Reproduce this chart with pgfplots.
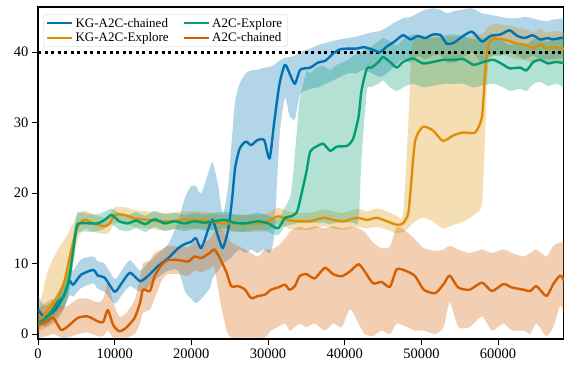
\documentclass[border=0pt]{standalone}
\usepackage{fontspec}
\setmainfont{Liberation Serif}
\usepackage{pgfplots}
\usepackage{pgfplotstable}
\pgfplotsset{compat=1.18}
\usepgfplotslibrary{fillbetween}
\definecolor{cbblue}{HTML}{0173B2}
\definecolor{cborange}{HTML}{DE8F05}
\definecolor{cbgreen}{HTML}{029E73}
\definecolor{cbred}{HTML}{D55E00}

\pgfplotstableread{
x m lo hi
0 3.5 1.8 5.5
900 2.4 1.0 4.0
2200 3.4 2.0 5.0
3300 5.3 3.5 7.0
4100 7.5 5.5 9.3
4600 7.0 5.3 9.0
5600 8.4 6.5 10.6
7200 9.1 7.2 11.0
7800 8.3 6.4 10.3
8700 8.0 6.0 10.0
10000 6.0 4.3 7.8
10900 7.2 5.5 9.0
12000 8.7 6.8 10.5
13300 7.5 6.0 9.0
14300 8.2 6.5 10.0
15600 9.6 8.0 11.4
17000 10.8 9.0 12.8
18300 12.2 9.0 16.0
19200 12.8 6.0 19.5
20000 13.1 5.0 21.0
20600 13.6 4.4 21.0
21300 12.2 5.0 20.0
22400 15.5 6.5 23.5
22800 16.2 8.0 24.3
23500 13.8 9.0 21.0
24100 12.2 10.0 17.0
24800 14.8 10.5 21.0
25300 19.0 11.0 28.0
25700 23.5 11.5 33.0
26300 26.3 12.0 35.5
27100 27.3 11.5 37.0
27800 26.8 12.0 37.4
28600 27.5 11.5 37.5
29500 27.5 12.0 37.8
30200 24.9 11.5 37.9
30800 30.0 14.0 38.2
31500 35.5 28.0 38.8
32200 38.2 33.5 39.2
32800 37.0 31.0 39.3
33500 35.5 30.5 39.5
34200 37.5 34.0 40.0
35500 37.8 34.8 40.5
36500 38.5 35.0 41.0
37500 38.8 35.5 41.3
38500 39.8 36.0 41.6
39400 40.4 36.5 41.8
40500 40.5 37.0 42.0
41500 40.5 37.0 42.2
42500 40.7 37.5 42.5
43500 40.4 37.0 42.8
44600 40.0 36.5 43.0
45500 40.8 37.0 43.5
46500 41.5 38.0 44.2
47600 42.4 39.0 44.8
48600 41.8 38.5 45.0
49500 42.3 39.5 45.5
50500 42.0 39.0 46.0
51500 42.5 39.5 46.2
52500 42.4 39.5 46.0
53300 41.2 38.5 45.5
54200 41.3 38.5 45.8
55200 42.1 39.0 46.0
56600 42.9 40.0 46.2
57900 41.5 38.5 45.5
59000 42.3 39.5 45.3
60300 42.5 39.5 45.0
61500 43.1 40.0 44.8
62500 42.3 39.5 44.8
63500 42.0 39.0 45.0
64500 42.4 39.5 44.8
65500 41.8 39.0 44.5
66500 42.0 39.0 44.4
67100 41.8 39.0 44.6
68600 42.1 39.2 44.8
}\kgchained

\pgfplotstableread{
x m lo hi
0 1.3 0.3 3.0
1300 3.4 1.0 9.0
2600 5.3 2.0 12.0
3500 7.7 4.0 13.5
4350 12.0 8.5 15.2
5200 15.3 13.5 17.0
6100 16.2 15.0 17.5
7200 15.7 14.5 17.0
8700 15.3 14.2 16.5
9350 15.7 14.5 17.0
10000 16.9 15.7 18.0
11300 16.9 15.7 18.0
12600 16.4 15.2 17.6
14300 16.2 15.0 17.4
15650 16.0 14.8 17.2
17400 16.0 14.8 17.2
18700 16.2 15.0 17.4
20400 16.2 15.0 17.4
22200 16.1 14.9 17.3
23900 15.7 14.5 16.9
26100 15.7 14.5 16.9
27800 15.7 14.5 16.9
29600 15.8 14.6 17.0
31300 16.7 15.5 17.9
32600 16.2 15.0 17.4
33900 16.0 14.8 17.2
35500 16.0 14.8 17.2
37200 16.5 15.3 17.7
38500 16.2 15.0 17.4
39800 16.0 14.8 17.2
41600 16.5 15.2 17.8
42900 16.2 15.0 17.4
44200 16.5 15.2 17.8
45500 16.0 14.8 17.4
46800 15.5 14.3 16.8
47600 15.7 14.5 17.0
48300 17.2 15.0 30.0
48700 21.9 15.5 40.0
49200 27.5 16.0 42.0
50200 29.4 16.5 42.0
51500 28.9 16.0 42.3
52800 27.4 15.0 42.0
54200 28.2 15.5 42.2
55500 28.6 16.0 42.0
57000 28.6 17.0 42.5
57900 30.8 18.5 42.5
58300 37.0 28.0 43.0
58700 40.8 38.0 43.5
59400 41.9 39.5 44.0
61100 41.7 39.5 43.8
62400 41.2 39.0 43.5
63700 41.0 38.8 43.2
64600 40.5 38.5 42.8
65500 41.1 39.0 43.3
66300 40.5 38.5 42.8
67200 40.7 38.5 43.0
68600 40.5 38.3 42.8
}\kgexplore

\pgfplotstableread{
x m lo hi
0 1.6 0.8 2.5
1300 2.5 1.5 3.5
2600 4.6 3.2 6.0
3500 5.6 4.0 7.5
4100 8.2 6.0 10.5
5000 15.0 13.5 16.8
5400 15.7 14.5 17.3
6900 15.7 14.5 17.0
7800 15.7 14.6 17.0
8700 16.2 15.0 17.4
9600 16.9 15.6 17.8
10600 16.0 14.8 17.2
11700 15.7 14.6 16.9
12800 16.1 15.0 17.3
14000 15.6 14.5 16.8
15200 16.3 15.2 17.5
16500 15.7 14.6 17.0
17800 16.0 14.9 17.2
19100 15.7 14.6 16.9
20400 16.0 14.9 17.2
21700 15.8 14.7 17.0
23000 16.0 14.8 17.2
24300 16.2 15.0 17.4
25600 15.8 14.6 17.0
27000 15.7 14.5 16.9
28700 16.0 14.8 17.2
30000 15.7 14.5 16.8
31300 15.0 14.0 16.3
32200 16.5 15.3 18.0
33000 16.7 15.5 20.0
33700 17.2 15.7 28.0
34100 18.6 15.8 33.0
35000 23.0 15.8 37.2
35500 25.9 15.8 37.0
36300 26.6 15.8 37.8
37200 27.0 15.8 38.0
38100 26.0 15.6 37.5
39000 26.6 15.8 38.2
40300 26.7 15.8 38.8
41100 27.7 15.8 39.5
41800 30.8 16.0 39.8
42200 34.6 25.0 40.0
42900 37.7 34.5 40.5
43500 37.8 35.0 40.8
44400 38.6 35.5 41.5
45000 39.3 36.0 42.0
45900 38.6 35.0 41.5
46800 37.8 34.5 41.0
47600 38.6 35.0 41.8
48900 39.1 35.5 42.5
50200 38.4 35.0 42.0
51500 38.6 35.2 42.0
52800 38.9 35.5 42.3
54200 38.9 35.5 42.5
55500 39.0 35.5 42.3
56800 38.2 35.0 41.8
58100 38.6 35.3 42.0
59400 38.9 35.5 42.3
60700 38.2 35.0 41.5
61500 37.7 34.5 41.0
62900 37.8 34.8 41.2
63700 37.4 34.5 41.0
64600 38.6 35.5 41.8
65500 38.9 35.8 42.0
66500 38.4 35.2 41.5
67600 38.6 35.5 42.0
68600 38.4 35.0 41.8
}\aexplore

\pgfplotstableread{
x m lo hi
0 1.3 -0.5 3.5
1100 1.8 -0.3 4.5
2000 2.3 0.0 5.0
3000 0.6 -0.5 4.0
3900 1.1 -0.5 4.0
5200 2.3 0.0 5.0
6500 2.5 0.2 5.0
7800 1.8 -0.3 4.5
8500 1.7 -0.3 5.0
9100 3.4 0.5 7.2
9800 1.3 -0.5 4.5
10600 0.4 -0.5 2.5
11500 0.9 -0.5 3.0
12600 2.3 0.0 4.8
13300 4.4 1.5 8.0
13700 6.3 3.0 10.0
14600 6.1 3.5 10.5
15200 8.2 5.0 11.5
16100 9.8 7.5 12.0
16900 10.5 8.5 12.5
18300 10.5 8.5 12.5
19600 10.3 8.3 12.3
20400 11.0 9.0 13.0
21300 10.8 8.8 12.8
22400 11.5 9.3 13.5
23000 12.0 9.5 14.5
23700 10.8 5.0 15.0
24600 8.7 0.5 14.0
25200 6.8 -0.5 13.0
26100 6.8 -0.5 12.5
27000 6.3 -0.5 12.0
27800 5.1 -0.5 11.5
28700 5.4 -0.5 11.0
29600 5.6 -0.5 12.0
30400 6.3 0.5 12.0
31300 6.6 1.0 12.5
32200 7.0 1.5 13.5
32800 6.3 0.5 14.5
33500 6.8 1.0 15.0
34100 8.2 1.5 15.2
35000 8.5 1.0 15.0
36100 7.9 1.5 15.3
37400 9.4 0.5 15.0
38500 8.5 1.5 15.3
39600 8.2 1.0 15.0
40700 8.9 3.5 15.2
41800 9.9 1.5 15.0
42600 8.9 0.0 14.5
43700 7.2 -0.3 13.0
44800 7.4 0.5 12.2
45900 6.7 0.0 12.4
46800 9.2 1.5 15.2
48100 8.9 1.0 14.5
49200 8.2 0.5 13.4
50300 6.3 0.5 12.2
51800 5.8 0.0 11.8
52900 7.1 1.0 12.0
53700 8.3 4.5 12.5
54800 6.6 1.0 12.0
56300 6.3 1.0 11.5
57900 7.3 2.5 12.0
59200 6.1 0.5 11.5
60700 7.1 1.5 12.0
61800 6.6 0.5 11.5
63300 6.3 0.5 11.0
64200 6.1 0.0 11.5
65000 6.8 1.5 12.0
66300 5.4 -0.3 11.0
67200 7.1 1.0 12.5
68100 8.3 4.0 13.0
68600 7.6 3.0 13.0
}\achained

\begin{document}
\begin{tikzpicture}
\begin{axis}[
  at={(0pt,0pt)}, anchor=south west,
  scale only axis, width=526pt, height=332pt,
  xmin=0, xmax=68600, ymin=-0.7, ymax=46.4,
  xtick={0,10000,20000,30000,40000,50000,60000},
  ytick={0,10,20,30,40},
  scaled x ticks=false,
  xticklabel style={/pgf/number format/1000 sep={}},
  /pgf/number format/assume math mode=true,
  tick label style={font=\fontsize{14.5}{16}\selectfont},
  tick align=outside, tick pos=left,
  major tick length=6pt,
  every tick/.style={black, line width=1pt},
  axis line style={line width=1.1pt},
  clip=true,
  legend columns=2, transpose legend,
  legend cell align=left,
  legend image code/.code={\draw[#1, line width=2.4pt] (0pt,0pt) -- (25pt,0pt);},
  legend style={at={(0.0095,0.978)}, anchor=north west,
    font=\fontsize{13}{15}\selectfont, draw=black!18, rounded corners=2pt,
    fill=white, fill opacity=0.8, text opacity=1, inner xsep=3pt, inner ysep=1.5pt,
    row sep=0pt,
    /tikz/every even column/.append style={column sep=12pt}},
  line join=round,
]
% bands
\addplot[name path=bU, draw=none, forget plot, smooth, tension=0.4] table[x=x,y=hi]{\kgchained};
\addplot[name path=bL, draw=none, forget plot, smooth, tension=0.4] table[x=x,y=lo]{\kgchained};
\addplot[fill=cbblue, fill opacity=0.3, draw=none, forget plot] fill between[of=bU and bL];
\addplot[name path=oU, draw=none, forget plot, smooth, tension=0.4] table[x=x,y=hi]{\kgexplore};
\addplot[name path=oL, draw=none, forget plot, smooth, tension=0.4] table[x=x,y=lo]{\kgexplore};
\addplot[fill=cborange, fill opacity=0.3, draw=none, forget plot] fill between[of=oU and oL];
\addplot[name path=gU, draw=none, forget plot, smooth, tension=0.4] table[x=x,y=hi]{\aexplore};
\addplot[name path=gL, draw=none, forget plot, smooth, tension=0.4] table[x=x,y=lo]{\aexplore};
\addplot[fill=cbgreen, fill opacity=0.3, draw=none, forget plot] fill between[of=gU and gL];
\addplot[name path=rU, draw=none, forget plot, smooth, tension=0.4] table[x=x,y=hi]{\achained};
\addplot[name path=rL, draw=none, forget plot, smooth, tension=0.4] table[x=x,y=lo]{\achained};
\addplot[fill=cbred, fill opacity=0.3, draw=none, forget plot] fill between[of=rU and rL];
% threshold
\addplot[black, line width=3pt, dash pattern=on 3pt off 3.5pt, forget plot] coordinates {(0,40) (68600,40)};
% means
\addplot[cbblue, line width=2.4pt, smooth, tension=0.4] table[x=x,y=m]{\kgchained};
\addlegendentry{KG-A2C-chained}
\addplot[cborange, line width=2.4pt, smooth, tension=0.4] table[x=x,y=m]{\kgexplore};
\addlegendentry{KG-A2C-Explore}
\addplot[cbgreen, line width=2.4pt, smooth, tension=0.4] table[x=x,y=m]{\aexplore};
\addlegendentry{A2C-Explore}
\addplot[cbred, line width=2.4pt, smooth, tension=0.4] table[x=x,y=m]{\achained};
\addlegendentry{A2C-chained}
\end{axis}
\pgfresetboundingbox
\path[use as bounding box] (-38pt,-28pt) rectangle (526pt,339pt);
\end{tikzpicture}
\end{document}
